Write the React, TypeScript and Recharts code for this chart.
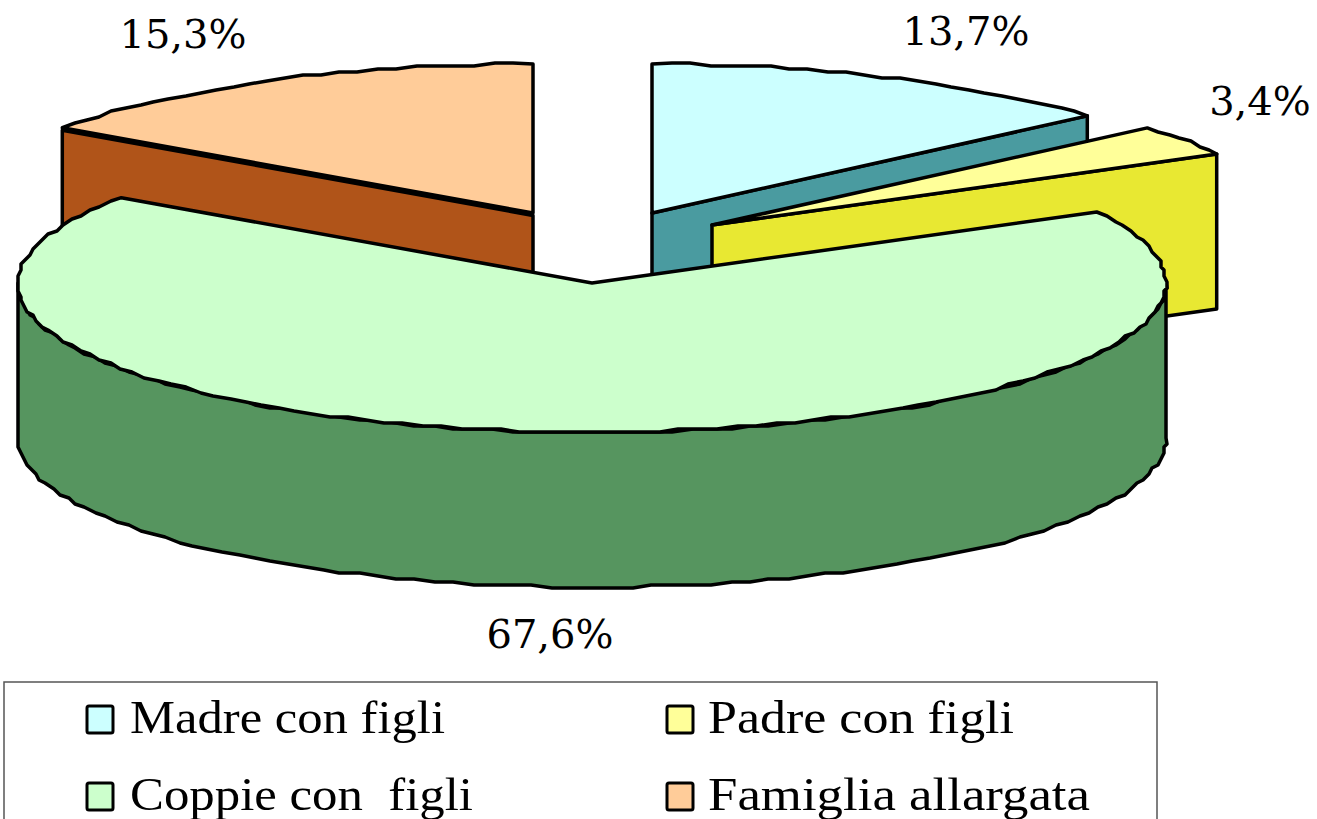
import React from "react";
import { PieChart, Pie, Legend } from "recharts";

const CATEGORIES = ["Madre con figli", "Padre con figli", "Coppie con  figli", "Famiglia allargata"];
const VALUES = [13.7, 3.4, 67.6, 15.3];
const TOP_COLORS = ["#CCFFFF", "#FFFF99", "#CCFFCC", "#FFCC99"];
const SIDE_COLORS = ["#4A9BA0", "#E8E832", "#56955F", "#B05419"];

// slice drawn back to front, so Famiglia has to come first
const DRAW_ORDER = [3, 0, 1, 2];
const EXPLODE = [[59, -70], [119, -58], [-1, 0], [-60, -70]];
const LABEL_POS = [[966, 45], [1260, 115], [550, 648], [183, 48]];
const LEGEND_POS = [[130, 733], [708, 733], [130, 810], [708, 810]];
const LEGEND_WIDTHS = [315, 306, 343, 382];
const SWATCH_POS = [[87, 706], [667, 706], [87, 783], [667, 783]];

const TILT = 149 / 574;
const DEPTH = 155;
const RAD = Math.PI / 180;

const pieData = DRAW_ORDER.map((i) => ({
  name: CATEGORIES[i],
  value: VALUES[i],
  fill: TOP_COLORS[i],
  idx: i,
}));

// the original outline is a rough polygon, not a clean curve
function arcPoints(cx: number, cy: number, rx: number, from: number, to: number, dy = 0) {
  const n = Math.max(2, Math.ceil(Math.abs(to - from) / 2));
  const pts: number[][] = [];
  for (let k = 0; k <= n; k++) {
    const a = (from + ((to - from) * k) / n) * RAD;
    let x = cx + rx * Math.cos(a);
    let y = cy - rx * TILT * Math.sin(a) + dy;
    if (k > 0 && k < n) {
      x = Math.round(x / 3) * 3;
      y = Math.round(y / 3) * 3;
    }
    pts.push([x, y]);
  }
  return pts;
}

const toPath = (pts: number[][]) => "M" + pts.map((p) => `${p[0].toFixed(1)},${p[1].toFixed(1)}`).join("L") + "Z";

function Slice3D(props: any) {
  const { cx, cy, outerRadius: r, startAngle, endAngle, payload } = props;
  const i = payload.idx ?? props.idx;
  const x0 = cx + EXPLODE[i][0];
  const y0 = cy + EXPLODE[i][1];
  const edge = (a: number) => [x0 + r * Math.cos(a * RAD), y0 - r * TILT * Math.sin(a * RAD)];
  // Famiglia's wall sits a little under its top, which thickens the line there
  const gap = i === 3 ? 2.5 : 0;
  const wall = (a: number) => {
    const e = edge(a);
    return toPath([[x0, y0 + gap], [e[0], e[1] + gap], [e[0], e[1] + DEPTH], [x0, y0 + DEPTH]]);
  };
  const style = { stroke: "#000", strokeWidth: 3.5, strokeLinejoin: "round" as const };
  const from = Math.min(startAngle, 0);
  const to = Math.max(endAngle, -180);
  const top = arcPoints(x0, y0, r, startAngle, endAngle);
  return (
    <g>
      {Math.cos(startAngle * RAD) < -0.001 && <path d={wall(startAngle)} fill={SIDE_COLORS[i]} {...style} />}
      {Math.cos(endAngle * RAD) > 0.001 && <path d={wall(endAngle)} fill={SIDE_COLORS[i]} {...style} />}
      {from > to && (
        <path
          d={toPath([...arcPoints(x0, y0, r, from, to), ...arcPoints(x0, y0, r, to, from, DEPTH)])}
          fill={SIDE_COLORS[i]}
          {...style}
        />
      )}
      <path d={toPath([[x0, y0], ...top])} fill={TOP_COLORS[i]} {...style} />
    </g>
  );
}

function PercentLabel(props: any) {
  const i = props.payload?.idx ?? props.idx;
  return (
    <text x={LABEL_POS[i][0]} y={LABEL_POS[i][1]} textAnchor="middle" fontFamily="DejaVu Serif" fontSize={40} fill="#000">
      {VALUES[i].toFixed(1).replace(".", ",")}%
    </text>
  );
}

function LegendBox() {
  return (
    <svg width={1317} height={819} style={{ display: "block" }}>
      <rect x={4} y={682} width={1153} height={170} fill="#fff" stroke="#555" strokeWidth={1.5} />
      {CATEGORIES.map((name, i) => (
        <g key={name}>
          <rect
            x={SWATCH_POS[i][0]}
            y={SWATCH_POS[i][1]}
            width={26}
            height={27}
            rx={2}
            fill={TOP_COLORS[i]}
            stroke="#000"
            strokeWidth={3}
          />
          <text
            x={LEGEND_POS[i][0]}
            y={LEGEND_POS[i][1]}
            fontFamily="Liberation Serif"
            fontSize={46}
            textLength={LEGEND_WIDTHS[i]}
            lengthAdjust="spacingAndGlyphs"
            fill="#000"
            style={{ whiteSpace: "pre" }}
          >
            {name}
          </text>
        </g>
      ))}
    </svg>
  );
}

export default function App() {
  return (
    <div style={{ position: "absolute", left: 0, top: 0, width: 1317, height: 819, overflow: "hidden", background: "#fff" }}>
      <PieChart width={1317} height={819} margin={{ top: 0, right: 0, bottom: 0, left: 0 }}>
        <Pie
          data={pieData}
          dataKey="value"
          nameKey="name"
          cx={593}
          cy={283}
          innerRadius={0}
          outerRadius={574}
          startAngle={145.08}
          endAngle={-214.92}
          shape={Slice3D}
          label={PercentLabel}
          labelLine={false}
          isAnimationActive={false}
        />
        <Legend content={<LegendBox />} wrapperStyle={{ position: "absolute", left: 0, top: 0, width: 1317, height: 819, bottom: "auto", pointerEvents: "none" }} />
      </PieChart>
    </div>
  );
}
